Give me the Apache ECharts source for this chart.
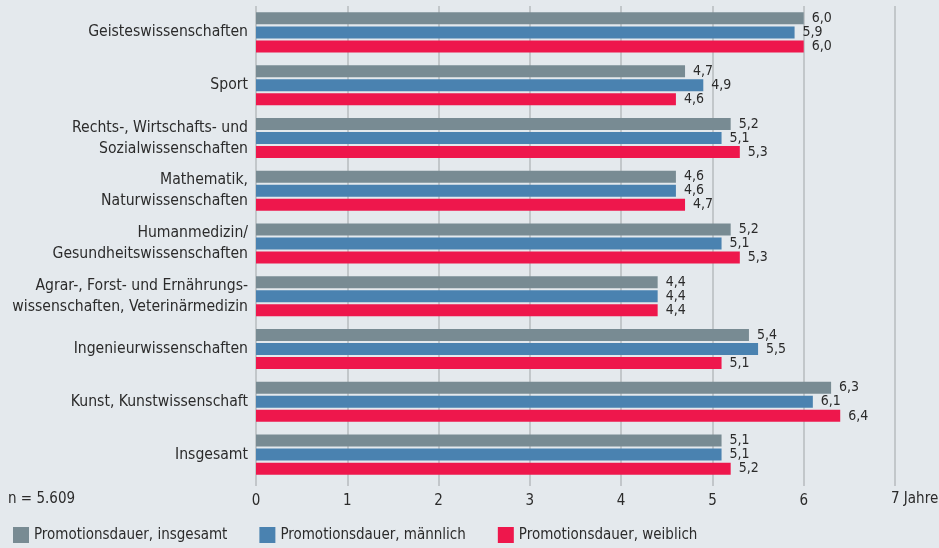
<!DOCTYPE html>
<html>
<head>
<meta charset="utf-8">
<script src="https://cdn.jsdelivr.net/npm/echarts@6/dist/echarts.min.js"></script>
<style>
  html, body { margin: 0; padding: 0; background: #e4e9ed; }
  #chart { width: 939px; height: 548px; }
</style>
</head>
<body>
<div id="chart"></div>
<script>
// Fächergruppen (von oben nach unten)
const categories = [
  'Geisteswissenschaften',
  'Sport',
  'Rechts-, Wirtschafts- und\nSozialwissenschaften',
  'Mathematik,\nNaturwissenschaften',
  'Humanmedizin/\nGesundheitswissenschaften',
  'Agrar-, Forst- und Ernährungs-\nwissenschaften, Veterinärmedizin',
  'Ingenieurwissenschaften',
  'Kunst, Kunstwissenschaft',
  'Insgesamt'
]
const insgesamt = [6.0, 4.7, 5.2, 4.6, 5.2, 4.4, 5.4, 6.3, 5.1]
const maennlich = [5.9, 4.9, 5.1, 4.6, 5.1, 4.4, 5.5, 6.1, 5.1]
const weiblich = [6.0, 4.6, 5.3, 4.7, 5.3, 4.4, 5.1, 6.4, 5.2]
const xMax = 7

const FONT = '"Liberation Sans Narrow", "DejaVu Sans Condensed", sans-serif'
const TEXT = '#2b2b2b'

const chart = echarts.init(document.getElementById('chart'))

function bar(name, data, color) {
  return {
    name: name,
    type: 'bar',
    data: data,
    barWidth: 12,
    barGap: '17%',
    itemStyle: { color: color },
    label: {
      show: true,
      position: 'right',
      distance: 8,
      color: TEXT,
      fontFamily: FONT,
      fontSize: 14,
      formatter: p => p.value.toFixed(1).replace('.', ','),
    },
    emphasis: { disabled: true },
  }
}

const option = {
  backgroundColor: '#e4e9ed',
  animation: false,
  textStyle: { fontFamily: FONT },
  grid: {
    left: 256,
    right: 44,
    top: 6,
    height: 475,
    containLabel: false,
    outerBoundsMode: 'none',
  },
  legend: {
    left: 8,
    bottom: 0,
    icon: 'rect',
    itemWidth: 16,
    itemHeight: 16,
    itemGap: 32,
    textStyle: { color: TEXT, fontSize: 15, fontFamily: FONT },
    data: ['Promotionsdauer, insgesamt', 'Promotionsdauer, männlich', 'Promotionsdauer, weiblich'],
  },
  xAxis: {
    type: 'value',
    min: 0,
    max: xMax,
    interval: 1,
    axisLine: { show: false },
    axisTick: {
      show: true,
      length: 5,
      lineStyle: { color: '#b7bbbe', width: 1.5 },
    },
    splitLine: {
      show: true,
      lineStyle: { color: '#b7bbbe', width: 1.5 },
    },
    axisLabel: {
      color: TEXT,
      fontSize: 15,
      fontFamily: FONT,
      margin: 13,
      // der letzte Wert wird unten mit "Jahre" separat gesetzt
      formatter: v => (v === xMax ? '' : String(v)),
    },
  },
  yAxis: {
    type: 'category',
    data: categories,
    inverse: true,
    axisLine: { show: false },
    axisTick: { show: false },
    axisLabel: {
      color: TEXT,
      fontSize: 15.6,
      fontFamily: FONT,
      lineHeight: 21,
      margin: 8,
    },
  },
  graphic: [{
    id: 'n',
    type: 'text',
    left: 8,
    top: 492,
    style: { text: 'n = 5.609', fill: TEXT, fontSize: 15, fontFamily: FONT },
  }],
  series: [
    bar('Promotionsdauer, insgesamt', insgesamt, '#788b93'),
    bar('Promotionsdauer, männlich', maennlich, '#4a82b0'),
    bar('Promotionsdauer, weiblich', weiblich, '#ee174c'),
  ],
}
chart.setOption(option)

// "7 Jahre" an der Position des letzten Ticks
const maxX = chart.convertToPixel({ xAxisIndex: 0 }, xMax)
chart.setOption({
  graphic: [{
    id: 'jahre',
    type: 'text',
    x: maxX - 4,
    y: 492,
    style: { text: xMax + ' Jahre', fill: TEXT, fontSize: 15, fontFamily: FONT },
  }],
})
</script>
</body>
</html>
